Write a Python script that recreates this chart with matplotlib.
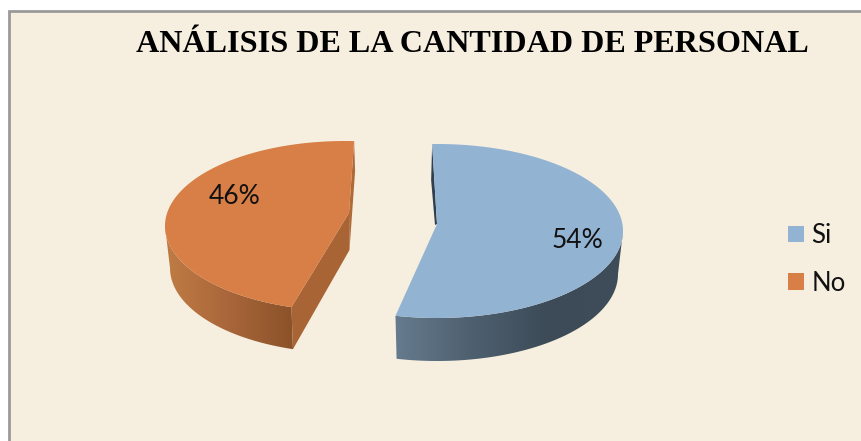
import numpy as np
import matplotlib
matplotlib.use('Agg')
import matplotlib.pyplot as plt
from matplotlib.patches import Polygon, Patch, Rectangle
from matplotlib.colors import LinearSegmentedColormap

categories = ['Si', 'No']
values = [54, 46]
title = 'ANÁLISIS DE LA CANTIDAD DE PERSONAL'

BG = '#F6EFDF'
TOP = ['#92B3D2', '#D87E47']
SIDE = [['#667B8E', '#4E6070', '#3D4B58', '#3E4D59'], ['#C07C44', '#A9663A', '#8B5229']]

# slice layout in pixels: centre, radii, depth, apex, first angle
cx = [437, 345]
cy = [231, 226]
rx = [186, 180]
ry = [87, 85]
apex = [(437, 224), (349, 213)]
first = [-1.5, 197.3]
depth = [43, 42]
label_pos = [(577, 240), (235, 197)]


def rim(i, t, low=False):
    t = np.radians(t)
    r = rx[i] - 5 if low else rx[i]
    y0 = cy[i] + depth[i] if low else cy[i]
    return cx[i] + r * np.sin(t), y0 - ry[i] * np.cos(t)


fig = plt.figure(figsize=(8.61, 4.41), dpi=100, facecolor='white')
ax = fig.add_axes([0, 0, 1, 1])
ax.axis('off')

ax.add_patch(Rectangle((9, 11), 900, 480, fc=BG, ec='#9A9A9A', lw=2))

total = sum(values)
for i in range(len(values)):
    a0 = first[i]
    a1 = a0 + 360 * values[i] / total
    ts = np.linspace(a0, a1, 200)
    x, y = rim(i, ts)

    # curved outer wall, only the front part shows
    lo, hi = (90, a1) if i == 0 else (a0, 270)
    tt = np.linspace(lo, hi, 120)
    xa, ya = rim(i, tt)
    xb, yb = rim(i, tt[::-1], low=True)
    wall = Polygon(np.c_[np.r_[xa, xb], np.r_[ya, yb]], fc='none', ec='none')
    ax.add_patch(wall)
    cmap = LinearSegmentedColormap.from_list('wall%d' % i, SIDE[i])
    left, right = min(xa.min(), xb.min()), max(xa.max(), xb.max())
    im = ax.imshow(np.linspace(0, 1, 256)[None, :], cmap=cmap, aspect='auto',
                   extent=(left, right, 400, 100), zorder=1)
    im.set_clip_path(wall)

    # cut faces
    if i == 0:
        sx, sy = rim(i, a0)
        ax.add_patch(Polygon([(sx, sy), (sx - 1, sy + 36), (apex[i][0] - 2, apex[i][1] + 1), apex[i]],
                             fc='#2F4050', ec='none', zorder=2))
    else:
        sx, sy = rim(i, a1)
        ex, ey = rim(i, a0)
        bx, by = rim(i, a0, low=True)
        ax.add_patch(Polygon([(sx, sy), (sx + 1, sy + 30), (apex[i][0] + 0.5, apex[i][1] + 37), apex[i]],
                             fc='#B06A38', ec='none', zorder=2))
        ax.add_patch(Polygon([apex[i], (apex[i][0] + 0.5, apex[i][1] + 37), (bx, by), (ex, ey)],
                             fc='#A86434', ec='none', zorder=2))

    # top surface
    ax.add_patch(Polygon(np.c_[np.r_[x, apex[i][0]], np.r_[y, apex[i][1]]], fc=TOP[i], ec='none', zorder=3))
    ax.text(label_pos[i][0], label_pos[i][1], '%d%%' % values[i], fontsize=19, family='Lato',
            ha='center', va='center', color='#111111', zorder=4)

ax.set_xlim(0, 861)
ax.set_ylim(441, 0)

ax.text(472, 45, title, fontsize=23.1, family='Liberation Serif', weight='bold',
        ha='center', va='center', color='black')

handles = [Patch(fc=TOP[i], ec='none', label=categories[i]) for i in range(len(categories))]
ax.legend(handles=handles, loc='center left', bbox_to_anchor=(765 / 861, 1 - 259.5 / 441),
          frameon=False, prop={'family': 'Lato', 'size': 18.5}, handlelength=0.6, handleheight=0.6,
          handletextpad=0.3, labelspacing=0.87, labelcolor='#111111')

fig.savefig('out.png', dpi=100, facecolor='white')
